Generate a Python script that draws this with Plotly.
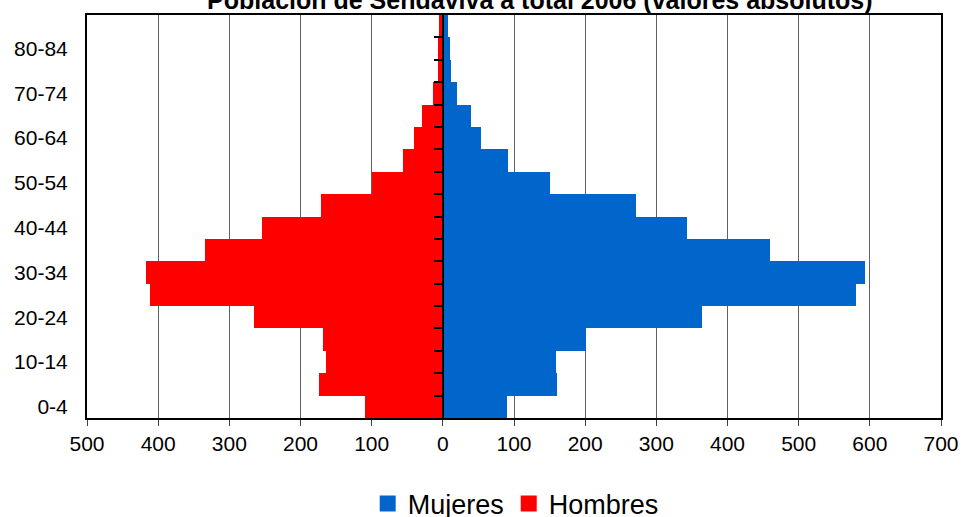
import plotly.graph_objects as go

age_groups = ["0-4", "5-9", "10-14", "15-19", "20-24", "25-29", "30-34", "35-39",
              "40-44", "45-49", "50-54", "55-59", "60-64", "65-69", "70-74",
              "75-79", "80-84", "85+"]
mujeres = [90, 161, 159, 201, 364, 581, 593, 460, 343, 272, 151, 92, 54, 40, 20, 11, 10, 7]
hombres = [110, 174, 164, 168, 265, 411, 417, 334, 254, 171, 100, 56, 41, 29, 14, 7, 7, 6]
x_ticks = [-500, -400, -300, -200, -100, 0, 100, 200, 300, 400, 500, 600, 700]
x_tick_text = [str(abs(v)) for v in x_ticks]
y_label_groups = ["0-4", "10-14", "20-24", "30-34", "40-44", "50-54", "60-64", "70-74", "80-84"]
title_text = "Población de Sendaviva a total 2006 (valores absolutos)"

FONT = "Liberation Sans, Arial, sans-serif"
BLUE = "#0066CC"
RED = "#FF0000"
n = len(age_groups)
idx = list(range(n))

fig = go.Figure()
fig.add_trace(go.Bar(y=idx, x=mujeres, orientation="h", name="Mujeres",
                     legendgroup="m", showlegend=False,
                     marker=dict(color=BLUE, line=dict(width=0)),
                     hovertemplate="%{customdata}: %{x}<extra>Mujeres</extra>",
                     customdata=age_groups))
fig.add_trace(go.Bar(y=idx, x=[-v for v in hombres], orientation="h", name="Hombres",
                     legendgroup="h", showlegend=False,
                     marker=dict(color=RED, line=dict(width=0)),
                     hovertemplate="%{customdata}: %{text}<extra>Hombres</extra>",
                     text=[str(v) for v in hombres], textposition="none",
                     customdata=age_groups))
# legend entries with larger square swatches
fig.add_trace(go.Scatter(x=[None], y=[None], mode="markers", name="Mujeres", legendgroup="m",
                         marker=dict(symbol="square", size=17, color=BLUE, line=dict(width=0))))
fig.add_trace(go.Scatter(x=[None], y=[None], mode="markers", name="Hombres", legendgroup="h",
                         marker=dict(symbol="square", size=17, color=RED, line=dict(width=0))))
# invisible trace to activate the secondary (category-boundary tick) axis at x=0
fig.add_trace(go.Scatter(x=[0, 0], y=[-0.5, n - 0.5], yaxis="y2", mode="lines",
                         line=dict(width=0, color="rgba(0,0,0,0)"), showlegend=False,
                         hoverinfo="skip"))

xmin, xmax = x_ticks[0], x_ticks[-1]
zero_pos = (0 - xmin) / (xmax - xmin)

fig.update_layout(
    width=964, height=517,
    margin=dict(l=87, r=23, t=15, b=99, autoexpand=False),
    paper_bgcolor="white", plot_bgcolor="white",
    barmode="overlay", bargap=0,
    font=dict(family=FONT, color="black"),
    title=dict(text="<b>" + title_text + "</b>", font=dict(size=25, family=FONT, color="black"),
               x=0.56, xanchor="center", yref="container", y=1.0, yanchor="middle",
               pad=dict(t=0, b=0)),
    xaxis=dict(range=[xmin, xmax], tickvals=x_ticks, ticktext=x_tick_text,
               showgrid=True, gridcolor="#606060", gridwidth=1, automargin=False,
               zeroline=False, showline=True, linecolor="black", linewidth=2, mirror=True,
               ticks="outside", ticklen=6, tickcolor="#404040", tickwidth=1,
               tickfont=dict(size=21, family=FONT)),
    yaxis=dict(range=[-0.5, n - 0.5], tickvals=[age_groups.index(g) for g in y_label_groups],
               ticktext=y_label_groups, showgrid=False, zeroline=False, automargin=False,
               showline=True, linecolor="black", linewidth=2, mirror=True,
               ticks="", ticklabelstandoff=13, tickfont=dict(size=21, family=FONT)),
    yaxis2=dict(overlaying="y", anchor="free", position=zero_pos, side="left",
                range=[-0.5, n - 0.5], tickvals=[i - 0.5 for i in range(1, n)],
                showticklabels=False, showgrid=False, zeroline=False, automargin=False,
                showline=True, linecolor="black", linewidth=1.5,
                ticks="outside", ticklen=8, tickcolor="black", tickwidth=1.5),
    legend=dict(orientation="h", x=0.502, xanchor="center", yref="paper",
                y=-0.213, yanchor="middle",
                font=dict(size=27, family=FONT), traceorder="normal",
                itemwidth=30, itemsizing="trace", tracegroupgap=0),
    showlegend=True,
)

fig.write_html("out.html", config={"displayModeBar": False},
               post_script="document.body.style.margin='0';document.body.style.overflow='hidden';")
